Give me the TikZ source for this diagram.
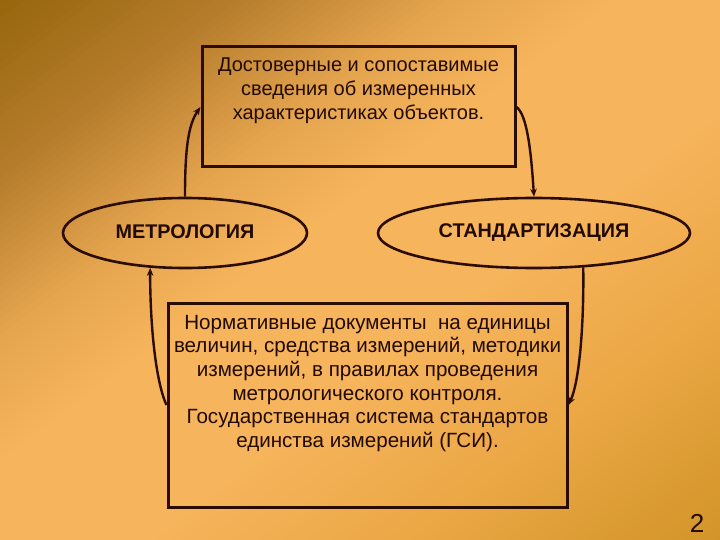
\documentclass[tikz,border=0pt]{standalone}
\usepackage{fontspec}
\setmainfont{Liberation Sans}
\usetikzlibrary{shapes.geometric,arrows.meta}
\definecolor{bgA}{RGB}{150,102,12}
\definecolor{bgB}{RGB}{182,125,44}
\definecolor{bgC}{RGB}{228,164,78}
\definecolor{bgD}{RGB}{246,180,92}
\definecolor{bgE}{RGB}{236,168,70}
\definecolor{bgF}{RGB}{210,148,40}
\definecolor{ink}{HTML}{220A00}
\definecolor{linec}{HTML}{2A0C02}
\newcommand\bgseg[5]{%
  \foreach \j in {1,...,#5}{%
    \pgfmathsetmacro\tlo{#1+(#2-#1)*(\j-1)/#5}%
    \pgfmathsetmacro\thi{#1+(#2-#1)*\j/#5+0.004}%
    \pgfmathsetmacro\pc{100*(\j-0.5)/#5}%
    \fill[color=#4!\pc!#3] (720*\tlo,0) -- (720*\thi,0) -- (0,540*\thi) -- (0,540*\tlo) -- cycle;
  }}
\tikzset{
  boxshape/.style={draw=linec, line width=3pt, minimum width=#1, inner sep=0pt},
  ell/.style={draw=linec, line width=2.6pt, ellipse, inner sep=0pt, minimum height=70pt, font=\fontsize{19.8}{22}\selectfont\bfseries, text=ink},
  txt/.style={align=center, text=ink, inner sep=0pt},
  conn/.style={draw=linec, line width=2.4pt, -{Stealth[length=8pt,width=6.5pt]}}
}
\begin{document}
\begin{tikzpicture}[x=1pt,y=-1pt]
\useasboundingbox (0,0) rectangle (720,540);
\begin{scope}
\clip (0,0) rectangle (720,540);
\bgseg{0}{0.33}{bgA}{bgB}{20}
\bgseg{0.33}{0.62}{bgB}{bgC}{20}
\bgseg{0.62}{0.85}{bgC}{bgD}{16}
\bgseg{0.85}{1.2}{bgD}{bgD}{2}
\bgseg{1.2}{1.55}{bgD}{bgE}{20}
\bgseg{1.55}{2.01}{bgE}{bgF}{24}
\end{scope}
% top box
\node[boxshape=313pt, minimum height=120pt] (topbox) at (358.5,107) {};
\node[txt, anchor=north, font=\fontsize{20}{24}\selectfont] (toptext) at (358.5,58) {Достоверные и сопоставимые\\сведения об измеренных\\характеристиках объектов.};
% ellipses
\node[ell, minimum width=244pt] (metro) at (185,233) {\raisebox{3pt}{МЕТРОЛОГИЯ}};
\node[ell, minimum width=312pt] (stand) at (534,233) {\raisebox{3pt}{СТАНДАРТИЗАЦИЯ}};
% bottom box
\node[boxshape=399pt, minimum height=204pt] (botbox) at (367.5,405) {};
\node[txt, anchor=north, font=\fontsize{20.6}{23.6}\selectfont] (bottext) at (367.5,315) {Нормативные документы\ \ на единицы\\величин, средства измерений, методики\\измерений, в правилах проведения\\метрологического контроля.\\Государственная система стандартов\\единства измерений (ГСИ).};
% connectors
\draw[conn] (metro.north) .. controls (185,150) and (188,125) .. (topbox.west);
\draw[conn] (topbox.east) .. controls (527,115) and (531,150) .. (stand.north);
\draw[conn] (stand.325) .. controls (584,320) and (580,380) .. (botbox.east);
\draw[conn] (botbox.west) .. controls (155,380) and (150,320) .. (metro.225);
% page number
\node[text=ink, font=\fontsize{26}{28}\selectfont, anchor=base] (pnum) at (697,532) {2};
\end{tikzpicture}
\end{document}
